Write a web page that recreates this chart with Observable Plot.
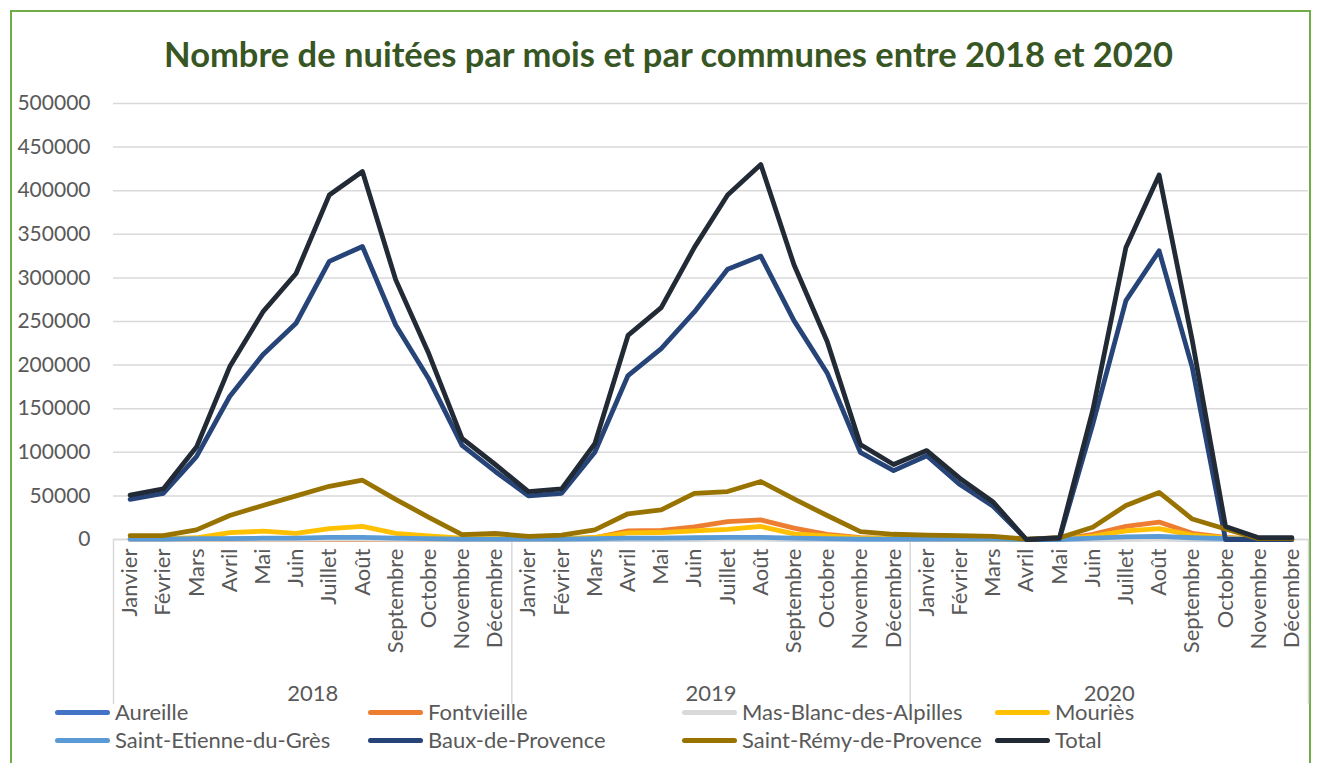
<!DOCTYPE html>
<html><head><meta charset="utf-8">
<script src="https://cdn.jsdelivr.net/npm/d3@7"></script>
<script src="https://cdn.jsdelivr.net/npm/@observablehq/plot@0.6"></script>
<style>
html,body{margin:0;padding:0;background:#fff;}
#wrap{position:relative;width:1317px;height:763px;overflow:hidden;font-family:Lato,"Open Sans",sans-serif;}
#frame{position:absolute;left:10px;top:10px;width:1301px;height:800px;border:2px solid #70AD47;box-sizing:border-box;}
#title{position:absolute;left:10px;top:33px;width:1317px;text-align:center;font-size:34.5px;font-weight:bold;color:#375623;}
#chart{position:absolute;left:0;top:80px;}
.leg{position:absolute;display:flex;align-items:center;font-size:22px;color:#595959;line-height:1;}
.sw{width:55px;height:5px;border-radius:3px;margin-right:5px;}
</style></head>
<body><div id="wrap"><div id="frame"></div><div id="title">Nombre de nuitées par mois et par communes entre 2018 et 2020</div><div id="chart"></div><div id="legend"></div></div>
<script>
const months = ["Janvier","Février","Mars","Avril","Mai","Juin","Juillet","Août","Septembre","Octobre","Novembre","Décembre"];
const years = ["2018","2019","2020"];
const seriesNames = ["Aureille","Fontvieille","Mas-Blanc-des-Alpilles","Mouriès","Saint-Etienne-du-Grès","Baux-de-Provence","Saint-Rémy-de-Provence","Total"];
const seriesColors = ["#4472C4","#ED7D31","#D9D9D9","#FFC000","#5B9BD5","#264478","#997300","#222A35"];

const aureille = [200,200,300,500,600,700,900,1000,600,400,200,200,
                  200,200,300,500,600,700,900,1000,600,400,200,200,
                  200,200,100,0,0,400,800,900,500,200,0,0];
const fontvieille = [0,0,0,0,0,0,0,0,0,0,0,0,
                     0,0,2000,10000,10500,14500,20500,22500,13000,6000,2000,1000,
                     0,0,0,0,0,6000,15000,20000,7000,2500,0,0];
const masBlanc = [100,100,100,200,200,300,400,400,200,100,100,100,
                  100,100,100,200,200,300,400,400,200,100,100,100,
                  100,100,0,0,0,200,300,400,200,100,0,0];
const mouries = [1000,1000,2000,8000,9500,7000,12500,15000,7000,4000,1500,1500,
                 1000,1000,2500,7500,8000,10000,11500,15000,6500,4000,1500,1500,
                 1000,1000,500,0,0,4000,10000,12500,5000,2000,500,500];
const saintEtienne = [500,500,1000,1000,1500,1500,2500,2500,1500,1000,500,500,
                      500,500,1000,1500,1500,2000,2500,2500,1500,1000,500,500,
                      500,500,500,0,0,1500,3000,3500,2000,1000,0,0];
const baux = [46000,53000,95000,164000,212000,248000,319000,336000,246000,184000,108000,78000,
              50000,53000,100000,188000,219000,261000,310000,325000,251000,191000,100000,79000,
              96000,63000,38000,0,1000,132000,274000,331000,197000,0,0,0];
const saintRemy = [4500,4500,11000,27500,39000,50000,61000,68000,46000,25500,5500,7000,
                   3500,5000,11000,29500,34000,53000,55000,66500,46500,27500,9000,6000,
                   5000,4500,3500,500,2000,14000,39000,54000,23500,12000,1000,1000];
const total = [51000,58000,106000,198000,261000,305000,395000,422000,298000,213000,116000,86000,
               55000,58000,110000,234000,266000,335000,395000,430000,315000,227000,109000,86000,
               102000,70000,43000,0,2000,148000,335000,418000,228000,15000,2000,2000];
const yTicks = [0,50000,100000,150000,200000,250000,300000,350000,400000,450000,500000];

const allSeries = [aureille,fontvieille,masBlanc,mouries,saintEtienne,baux,saintRemy,total];
const rows = [];
allSeries.forEach((arr, s) => arr.forEach((v, i) => rows.push({series: seriesNames[s], i, value: v})));
const idx = d3.range(36);
const yearCenters = years.map((y, k) => k * 12 + 5.5);
const separators = [-0.5, 11.5, 23.5, 35.5];

const chart = Plot.plot({
  width: 1317,
  height: 683,
  marginLeft: 113,
  marginRight: 9,
  marginTop: 23,
  marginBottom: 224,
  style: {fontFamily: "Lato, 'Open Sans', sans-serif", fontSize: "21px", color: "#595959", background: "transparent"},
  x: {domain: [-0.5, 35.5], axis: null},
  y: {domain: [0, 500000], axis: null},
  color: {domain: seriesNames, range: seriesColors},
  marks: [
    Plot.gridY(yTicks, {stroke: "#D9D9D9", strokeOpacity: 1, strokeWidth: 1.5}),
    Plot.axisY(yTicks, {label: null, tickSize: 0, tickPadding: 23, tickFormat: d => String(d), fill: "#595959"}),
    Plot.axisX(separators, {label: null, tickSize: 165, stroke: "#D9D9D9", strokeWidth: 1.5, tickFormat: () => ""}),
    Plot.axisX(idx, {label: null, tickSize: 0, tickPadding: 9, tickRotate: -90, fontSize: 22, tickFormat: d => months[d % 12], fill: "#595959"}),
    Plot.axisX(yearCenters, {label: null, tickSize: 0, tickPadding: 146, fontSize: 22, tickFormat: (d, k) => years[k], fill: "#595959"}),
    Plot.ruleY([0], {stroke: "#D9D9D9", strokeWidth: 1.5}),
    Plot.lineY(rows, {x: "i", y: "value", z: "series", stroke: "series", strokeWidth: 4.8, strokeLinejoin: "round", strokeLinecap: "round"})
  ]
});
document.getElementById("chart").appendChild(chart);

const legCols = [55, 368, 682, 995];
const legRows = [712, 740];
const legend = document.getElementById("legend");
seriesNames.forEach((name, k) => {
  const el = document.createElement("div");
  el.className = "leg";
  el.style.left = legCols[k % 4] + "px";
  el.style.top = (legRows[Math.floor(k / 4)] - 11) + "px";
  el.style.height = "22px";
  el.innerHTML = `<div class="sw" style="background:${seriesColors[k]}"></div><span>${name}</span>`;
  legend.appendChild(el);
});
</script></body></html>
